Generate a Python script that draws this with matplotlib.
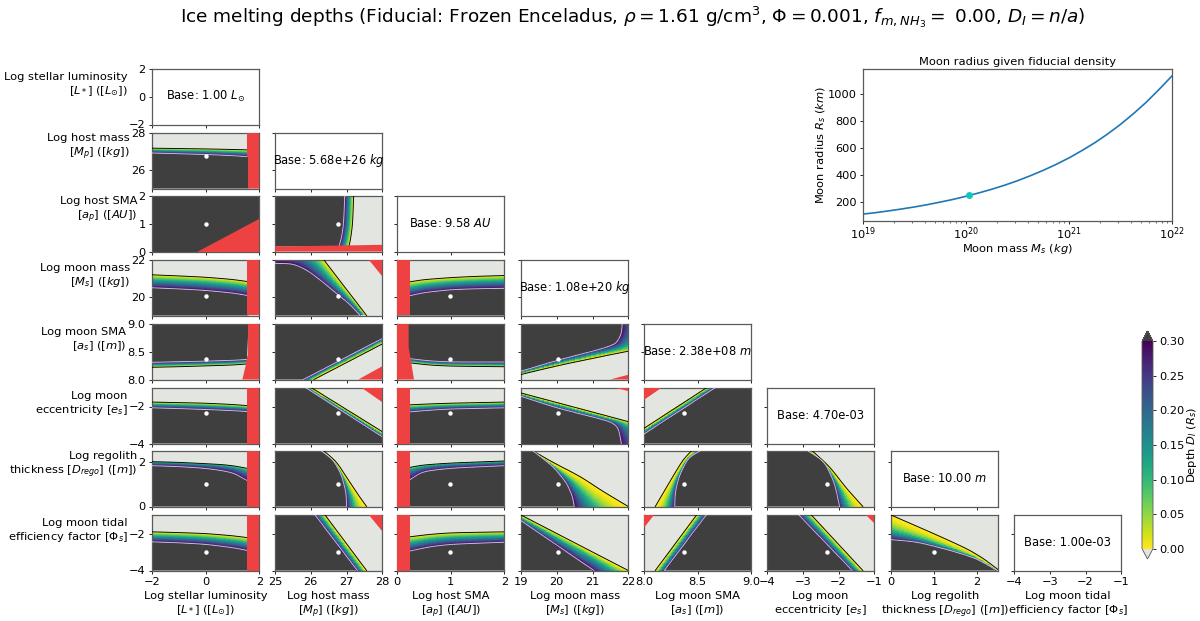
"""
Corner plot of ice melting depths, rebuilt from values read off the figure.
Each panel: "cold" curve (D=0.30, lilac), "melt" curve (D=0, black), paired point by point.
"""
import numpy as np
import matplotlib
matplotlib.use("Agg")
import matplotlib.pyplot as plt
from matplotlib.cm import ScalarMappable
from matplotlib.colors import Normalize

# axes ranges / ticks, in corner order
names = ["L", "Mp", "ap", "Ms", "as", "es", "D", "Phi"]
limits = [(-2, 2), (25, 28), (0, 2), (19, 22), (8, 9), (-4, -1), (0, 2.5), (-4, -1)]
xticks = [[-2, 0, 2], [25, 26, 27, 28], [0, 1, 2], [19, 20, 21, 22],
          [8, 8.5, 9], [-4, -3, -2, -1], [0, 1, 2], [-4, -3, -2, -1]]
yticks = [[-2, 0, 2], [26, 28], [0, 1, 2], [20, 22],
          [8, 8.5, 9], [-4, -2], [0, 2], [-4, -2]]
fiducial = [0, 26.75, 0.98, 20.03, 8.377, -2.33, 1.0, -3.0]
ylabels = [r"Log stellar luminosity" + "\n" + r"[$L_*$] ([$L_{\odot}$])",
           r"Log host mass" + "\n" + r"[$M_p$] ([$kg$])",
           r"Log host SMA" + "\n" + r"[$a_p$] ([$AU$])",
           r"Log moon mass" + "\n" + r"[$M_s$] ([$kg$])",
           r"Log moon SMA" + "\n" + r"[$a_s$] ([$m$])",
           r"Log moon" + "\n" + r"eccentricity [$e_s$]",
           r"Log regolith" + "\n" + r"thickness [$D_{rego}$] ([$m$])",
           r"Log moon tidal" + "\n" + r"efficiency factor [$\Phi_s$]"]
base_text = [r"Base: 1.00 $L_{\odot}$", r"Base: 5.68e+26 $kg$", r"Base: 9.58 $AU$",
             r"Base: 1.08e+20 $kg$", r"Base: 2.38e+08 $m$", "Base: 4.70e-03",
             r"Base: 10.00 $m$", "Base: 1.00e-03"]

# column L
Mp_L_cold = [(-2, 26.92), (-1, 26.88), (0, 26.84), (1, 26.78), (1.54, 26.72)]
Mp_L_melt = [(-2, 27.18), (-1, 27.16), (0, 27.14), (1, 27.11), (1.54, 27.09)]
Mp_L_dark = [(1.6, 26.7), (1.6, 25), (-2, 25)]
Mp_L_red = [(1.54, 28), (2, 28), (2, 25), (1.58, 25), (1.58, 26.7), (1.54, 26.72)]
ap_L_red = [(-0.31, 0), (2, 0), (2, 1.16)]
Ms_L_cold = [(-2, 20.5), (-1, 20.44), (0, 20.36), (1, 20.22), (1.54, 20.09)]
Ms_L_melt = [(-2, 21.2), (-1, 21.14), (0, 21.07), (1, 20.95), (1.54, 20.84)]
Ms_L_dark = [(1.6, 19), (-2, 19)]
Ms_L_red = [(1.54, 22), (2, 22), (2, 19), (1.54, 19)]
as_L_cold = [(-2, 8.31), (-1, 8.32), (0, 8.33), (1, 8.345), (1.54, 8.36)]
as_L_melt = [(-2, 8.22), (-1, 8.23), (0, 8.245), (1, 8.26), (1.54, 8.28)]
as_L_dark = [(1.6, 9), (-2, 9)]
as_L_red = [(1.58, 9), (2, 9), (2, 8), (1.37, 8), (1.5, 8.27), (1.54, 8.4), (1.58, 8.45)]
es_L_cold = [(-2, -2.07), (-1, -2.11), (0, -2.16), (1, -2.22), (1.54, -2.27)]
es_L_melt = [(-2, -1.76), (-1, -1.79), (0, -1.82), (1, -1.89), (1.54, -1.95)]
es_L_dark = [(1.6, -4), (-2, -4)]
es_L_red = [(1.54, -1), (2, -1), (2, -4), (1.54, -4)]
D_L_cold = [(-2, 1.84), (-1, 1.8), (0, 1.72), (0.6, 1.62), (1.06, 1.5), (1.54, 1.17)]
D_L_melt = [(-2, 2.02), (-1, 1.99), (0, 1.93), (0.6, 1.89), (1.06, 1.83), (1.54, 1.72)]
D_L_dark = [(1.6, 0), (-2, 0)]
D_L_red = [(1.54, 2.5), (2, 2.5), (2, 0), (1.54, 0)]
Phi_L_cold = [(-2, -2.45), (-1, -2.5), (0, -2.58), (1, -2.76), (1.54, -2.91)]
Phi_L_melt = [(-2, -1.91), (-1, -1.95), (0, -2.0), (1, -2.12), (1.54, -2.22)]
Phi_L_dark = [(1.6, -4), (-2, -4)]
Phi_L_red = [(1.54, -1), (2, -1), (2, -4), (1.54, -4)]

# column Mp
ap_Mp_cold = [(26.79, 0.19), (26.86, 0.5), (26.92, 1), (26.95, 2)]
ap_Mp_melt = [(27.07, 0.19), (27.12, 0.5), (27.17, 1), (27.2, 2)]
ap_Mp_dark = [(25, 2), (25, 0.18)]
ap_Mp_red = [(25, 0), (28, 0), (28, 0.24), (25, 0.18)]
Ms_Mp_cold = [(25, 21.82), (25.5, 21.8), (25.89, 21.46), (26.26, 20.93), (26.74, 20.16), (27.1, 19.59), (27.38, 19.0)]
Ms_Mp_melt = [(25.7, 23.7), (26.1, 22.68), (26.37, 22), (26.75, 21.04), (27.0, 20.41), (27.28, 19.71), (27.56, 19.0)]
Ms_Mp_dark = [(25, 19)]
Ms_Mp_red = [(27.64, 22), (28, 22), (28, 21.14)]
as_Mp_cold = [(25.79, 8), (28, 8.74)]
as_Mp_melt = [(26.09, 8), (28, 8.64)]
as_Mp_dark = [(28, 9), (25, 9), (25, 8)]
as_Mp_red = [(27.33, 8), (28, 8.24), (28, 8)]
es_Mp_cold = [(25.87, -1), (28, -3.64)]
es_Mp_melt = [(26.03, -1), (28, -3.36)]
es_Mp_dark = [(28, -4), (25, -4), (25, -1)]
es_Mp_red = [(27.42, -1), (28, -1), (28, -1.76)]
D_Mp_cold = [(26.3, 2.5), (26.63, 2.1), (26.86, 1.42), (26.99, 0.6), (27.0, 0)]
D_Mp_melt = [(26.37, 2.5), (26.72, 2.02), (27.05, 1.2), (27.33, 0.52), (27.56, 0)]
D_Mp_dark = [(25, 0), (25, 2.5)]
Phi_Mp_cold = [(26.12, -1), (27.3, -4)]
Phi_Mp_melt = [(26.4, -1), (27.56, -4)]
Phi_Mp_dark = [(25, -4), (25, -1)]
Phi_Mp_red = [(27.63, -1), (28, -1), (28, -1.89)]

# column ap
Ms_ap_cold = [(0.235, 20.07), (0.5, 20.24), (1, 20.4), (1.5, 20.45), (2, 20.47)]
Ms_ap_melt = [(0.235, 20.82), (0.5, 20.94), (1, 21.05), (1.5, 21.12), (2, 21.16)]
Ms_ap_dark = [(2, 19), (0, 19)]
Ms_ap_red = [(0, 22), (0.235, 22), (0.235, 19), (0, 19)]
as_ap_cold = [(0.235, 8.376), (0.6, 8.335), (1, 8.315), (2, 8.315)]
as_ap_melt = [(0.235, 8.3), (0.6, 8.26), (1, 8.24), (2, 8.23)]
as_ap_dark = [(2, 9), (0, 9)]
as_ap_red = [(0, 9), (0.217, 9), (0.217, 8.59), (0.316, 8), (0, 8)]
es_ap_cold = [(0.235, -2.29), (0.6, -2.2), (1, -2.13), (2, -2.07)]
es_ap_melt = [(0.235, -1.91), (0.6, -1.86), (1, -1.82), (2, -1.76)]
es_ap_dark = [(2, -4), (0, -4)]
es_ap_red = [(0, -1), (0.235, -1), (0.235, -4), (0, -4)]
D_ap_cold = [(0.235, 1.2), (0.48, 1.58), (1, 1.73), (2, 1.84)]
D_ap_melt = [(0.235, 1.76), (0.48, 1.87), (1, 1.96), (2, 2.05)]
D_ap_dark = [(2, 0), (0, 0)]
D_ap_red = [(0, 2.5), (0.235, 2.5), (0.235, 0), (0, 0)]
Phi_ap_cold = [(0.235, -2.95), (0.6, -2.72), (1, -2.58), (2, -2.47)]
Phi_ap_melt = [(0.235, -2.18), (0.6, -2.05), (1, -1.96), (2, -1.91)]
Phi_ap_dark = [(2, -4), (0, -4)]
Phi_ap_red = [(0, -1), (0.235, -1), (0.235, -4), (0, -4)]

# column Ms
as_Ms_cold = [(19, 8.15), (20.03, 8.35), (21.3, 8.56), (21.67, 8.65), (21.81, 8.83), (21.83, 9), (21.84, 9.3)]
as_Ms_melt = [(19, 8.09), (20.03, 8.25), (21.3, 8.42), (22, 8.51), (22.25, 8.54), (22.5, 8.58), (22.5, 9.3)]
as_Ms_dark = [(19, 9.3)]
as_Ms_red = [(21.49, 8), (22, 8.085), (22, 8)]
es_Ms_cold = [(19, -1.45), (20.03, -2.1), (21.49, -2.8), (21.72, -3.13), (21.81, -4), (21.81, -4.3)]
es_Ms_melt = [(19, -1.27), (20.03, -1.8), (21.6, -2.61), (22, -2.82), (22.6, -3.1), (22.6, -4.3)]
es_Ms_dark = [(19, -4.3)]
es_Ms_red = [(21.67, -1), (22, -1), (22, -1.18)]
D_Ms_cold = [(19.34, 2.5), (19.9, 1.8), (20.28, 1.05), (20.44, 0.45), (20.49, 0)]
D_Ms_melt = [(19.34, 2.5), (19.9, 1.98), (20.65, 1.36), (21.3, 0.67), (22, 0)]
D_Ms_dark = [(19, 0), (19, 2.5)]
Phi_Ms_cold = [(19, -1.31), (21.04, -4)]
Phi_Ms_melt = [(19, -1), (22, -4)]
Phi_Ms_dark = [(19, -4)]

# column as
es_as_cold = [(8, -3.49), (8.66, -1)]
es_as_melt = [(8, -3.18), (8.58, -1)]
es_as_dark = [(9, -1), (9, -4), (8, -4)]
es_as_red = [(8, -1), (8.16, -1), (8, -1.64)]
D_as_cold = [(8.286, 0), (8.29, 0.6), (8.326, 1.36), (8.41, 2.18), (8.52, 2.5)]
D_as_melt = [(8.105, 0), (8.19, 0.7), (8.27, 1.36), (8.363, 2.1), (8.44, 2.5)]
D_as_dark = [(9, 2.5), (9, 0)]
Phi_as_cold = [(8.19, -4), (8.58, -1)]
Phi_as_melt = [(8.105, -4), (8.49, -1)]
Phi_as_dark = [(9, -1), (9, -4)]
Phi_as_red = [(8, -1), (8.093, -1), (8, -1.69)]

# column es
D_es_cold = [(-2.85, 2.5), (-2.39, 2.02), (-2.11, 1.05), (-1.97, 0)]
D_es_melt = [(-2.73, 2.5), (-2.25, 1.8), (-1.78, 0.82), (-1.32, 0)]
D_es_dark = [(-4, 0), (-4, 2.5)]
Phi_es_cold = [(-3.11, -1), (-1.62, -4)]
Phi_es_melt = [(-2.76, -1), (-1.32, -4)]
Phi_es_dark = [(-4, -4), (-4, -1)]
Phi_es_red = [(-1.22, -1), (-1, -1), (-1, -1.42)]

# column D
Phi_D_cold = [(0, -2.33), (0.6, -2.45), (1.38, -2.91), (2.0, -3.36), (2.47, -4)]
Phi_D_melt = [(0, -1), (0.99, -2), (1.77, -2.82), (2.16, -3.36), (2.5, -3.96)]
Phi_D_dark = [(0, -4)]

# moon radius inset
moon_log_mass = [19, 19.125, 19.25, 19.375, 19.5, 19.625, 19.75, 19.875, 20, 20.125, 20.25, 20.375, 20.5,
                 20.625, 20.75, 20.875, 21, 21.125, 21.25, 21.375, 21.5, 21.625, 21.75, 21.875, 22]
moon_radius = [114, 125, 138, 152, 167, 184, 203, 223, 246, 271, 298, 328, 361,
               398, 438, 482, 530, 584, 642, 707, 778, 857, 942, 1037, 1137]
moon_base_mass = 1.08e20
moon_base_radius = 252

cbar_ticks = [0, 0.05, 0.10, 0.15, 0.20, 0.25, 0.30]

# how fast the depth rises away from the melt line, where the band is not linear
band_power = {(6, 0): 0.5, (6, 2): 0.5, (6, 1): 2, (6, 3): 2, (6, 4): 2, (6, 5): 2, (7, 6): 2}

DARK = "#3f3f3f"
LIGHT = "#e2e5e0"
RED = "#ee4242"
LILAC = "#d0bce6"
SPINE = "#5a5a5a"
LABEL_FS = 8.25
W, H = 1200, 621

cmap = plt.get_cmap("viridis_r").copy()
cmap.set_over(DARK)
cmap.set_under(LIGHT)
norm = Normalize(0, 0.30)


def px_axes(fig, x0, y0, x1, y1):
    return fig.add_axes([x0 / W, 1 - y1 / H, (x1 - x0) / W, (y1 - y0) / H])


def thicken(curve, n=8):
    """denser points between the read values, corners rounded a little"""
    curve = np.asarray(curve, float)
    idx = np.arange(len(curve))
    t = np.linspace(0, len(curve) - 1, (len(curve) - 1) * n + 1)
    x, y = np.interp(t, idx, curve[:, 0]), np.interp(t, idx, curve[:, 1])
    for _ in range(n):
        x[1:-1] = (x[:-2] + 2 * x[1:-1] + x[2:]) / 4
        y[1:-1] = (y[:-2] + 2 * y[1:-1] + y[2:]) / 4
    return x, y


def draw_band(ax, cold, melt, power=1):
    cx, cy = thicken(cold)
    mx, my = thicken(melt)
    s = np.linspace(0, 1, 61)[:, None]
    X = cx[None, :] * (1 - s) + mx[None, :] * s
    Y = cy[None, :] * (1 - s) + my[None, :] * s
    mid = 0.5 * (s[1:] + s[:-1])
    C = np.repeat(0.30 * (1 - mid) ** power, len(cx) - 1, axis=1)
    ax.pcolormesh(X, Y, C, cmap=cmap, norm=norm, shading="flat", zorder=2)
    ax.plot(mx, my, color="k", lw=0.65, zorder=3)
    ax.plot(cx, cy, color=LILAC, lw=0.65, zorder=3)
    return cx, cy


def style(ax):
    for sp in ax.spines.values():
        sp.set_color(SPINE)
        sp.set_linewidth(0.9)
    ax.tick_params(length=2.5, width=0.6, labelsize=8.2, pad=2)


def tick_text(t, one_decimal=False):
    text = f"{t:.1f}" if one_decimal else f"{t:g}"
    return text.replace("-", "\u2212")


panels = {}
for r, rname in enumerate(names):
    for c, cname in enumerate(names[:r]):
        g = globals()
        panels[(r, c)] = (g.get(f"{rname}_{cname}_cold"), g.get(f"{rname}_{cname}_melt"),
                          g.get(f"{rname}_{cname}_dark"), g.get(f"{rname}_{cname}_red"))

col_x0 = [152, 275, 397, 521, 644, 767, 891, 1014]
row_y0 = [69, 133, 196, 260, 324, 388, 451, 515]
AW, AH = 107.3, 55.5

fig = plt.figure(figsize=(W / 100, H / 100), dpi=100)
fig.suptitle(r"Ice melting depths (Fiducial: Frozen Enceladus, $\rho = 1.61$ g/cm$^3$, $\Phi = 0.001$, "
             r"$f_{m,NH_3} =$ 0.00, $D_I = n/a$)", fontsize=13.3, x=0.527, y=0.993, va="top")

for r in range(8):
    for c in range(r + 1):
        ax = px_axes(fig, col_x0[c], row_y0[r], col_x0[c] + AW, row_y0[r] + AH)
        if r == c:
            ax.text(0.5, 0.5, base_text[r], transform=ax.transAxes, ha="center", va="center", fontsize=8.3)
        else:
            cold, melt, dark, red = panels[(r, c)]
            if cold is None:
                ax.set_facecolor(DARK)
            else:
                ax.set_facecolor(LIGHT)
                cx, cy = draw_band(ax, cold, melt, band_power.get((r, c), 1))
                dark_pts = np.asarray(dark, float)
                ax.fill(np.r_[cx, dark_pts[:, 0]], np.r_[cy, dark_pts[:, 1]], color=DARK, lw=0, zorder=1)
            if red is not None:
                poly = np.array(red)
                ax.fill(poly[:, 0], poly[:, 1], color=RED, lw=0, zorder=4)
            ax.plot(fiducial[c], fiducial[r], "o", color="w", ms=3.2, mew=0, zorder=5)
        ax.set_xlim(limits[c])
        ax.set_ylim(limits[r])
        ax.set_xticks(xticks[c])
        ax.set_yticks(yticks[r])
        style(ax)
        if r == 7:
            ax.set_xticklabels([tick_text(t, c == 4) for t in xticks[c]])
            ax.set_xlabel(ylabels[c], fontsize=LABEL_FS, labelpad=3, linespacing=1.25)
        else:
            ax.set_xticklabels([])
        if c == 0:
            ax.set_yticklabels([tick_text(t, r == 4) for t in yticks[r]])
            ax.set_ylabel(ylabels[r], fontsize=LABEL_FS, rotation=0, ha="right", labelpad=1,
                          y=0.47, linespacing=1.25)
        else:
            ax.set_yticklabels([])

# moon radius inset
axm = px_axes(fig, 863, 69, 1172, 221)
axm.plot(10.0 ** np.array(moon_log_mass), moon_radius, color="C0", lw=1.2)
axm.plot(moon_base_mass, moon_base_radius, "o", color="#12c6c0", ms=5, mew=0, zorder=4)
axm.set_xscale("log")
axm.set_xlim(1e19, 1e22)
axm.set_ylim(63, 1188)
axm.set_yticks([200, 400, 600, 800, 1000])
style(axm)
axm.tick_params(axis="x", pad=1)
axm.tick_params(which="minor", length=1.4, width=0.4)
axm.set_xlabel(r"Moon mass $M_s$ ($kg$)", fontsize=LABEL_FS, labelpad=0)
axm.set_ylabel(r"Moon radius $R_s$ ($km$)", fontsize=LABEL_FS, labelpad=0)
axm.set_title("Moon radius given fiducial density", fontsize=LABEL_FS, pad=3)

# colour bar
cax = px_axes(fig, 1142, 331, 1153, 559)
cb = fig.colorbar(ScalarMappable(norm=norm, cmap=cmap), cax=cax, extend="both", ticks=cbar_ticks)
cb.ax.set_yticklabels([f"{t:.2f}" for t in cbar_ticks])
cb.ax.tick_params(length=2.5, width=0.6, labelsize=8.2, pad=2)
cb.outline.set_edgecolor(SPINE)
cb.outline.set_linewidth(0.6)
cb.set_label(r"Depth $D_I$ ($R_s$)", fontsize=LABEL_FS, labelpad=0)

fig.savefig("out.png", dpi=100)
